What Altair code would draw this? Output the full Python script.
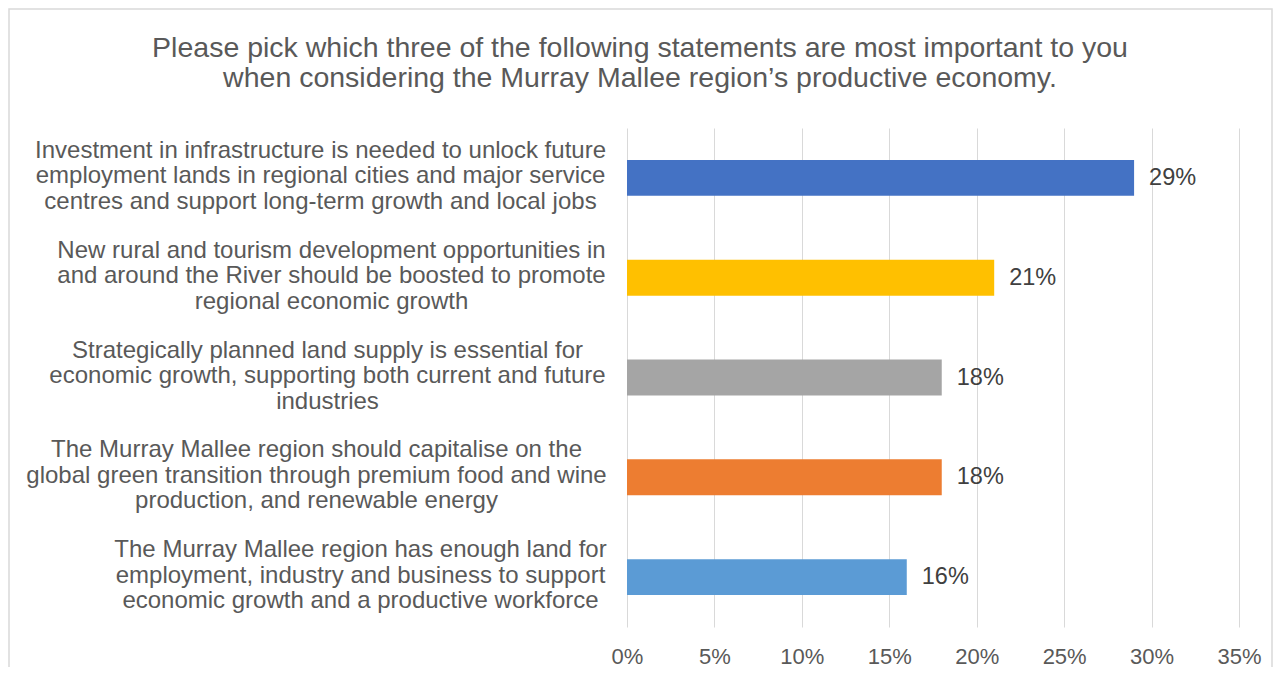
import altair as alt
import pandas as pd

statements = [
    "Investment in infrastructure is needed to unlock future|employment lands in regional cities and major service|centres and support long-term growth and local jobs",
    "New rural and tourism development opportunities in|and around the River should be boosted to promote|regional economic growth",
    "Strategically planned land supply is essential for|economic growth, supporting both current and future|industries",
    "The Murray Mallee region should capitalise on the|global green transition through premium food and wine|production, and renewable energy",
    "The Murray Mallee region has enough land for|employment, industry and business to support|economic growth and a productive workforce",
]
shares = [0.29, 0.21, 0.18, 0.18, 0.16]
colors = ["#4472C4", "#FFC000", "#A5A5A5", "#ED7D31", "#5B9BD5"]
x_ticks = [0, 0.05, 0.10, 0.15, 0.20, 0.25, 0.30, 0.35]
title_lines = [
    "Please pick which three of the following statements are most important to you",
    "when considering the Murray Mallee region\u2019s productive economy.",
]

df = pd.DataFrame({"statement": statements, "share": shares, "color": colors})

FONT = "Liberation Sans"
TEXT = "#595959"
W, H = 612, 499
PAD_L, PAD_T, PAD_R, PAD_B = 619, 120, 34, 40

# per-label horizontal centre offset (lines centred within a right-aligned block)
pads = [307, 296, 300, 311, 267]
pad_expr = "[" + ",".join(str(p) for p in pads) + "][indexof(domain('y'), datum.value)]"

y_enc = alt.Y(
    "statement:N",
    sort=statements,
    scale=alt.Scale(paddingInner=0.64, paddingOuter=0.32),
    axis=alt.Axis(
        title=None,
        domain=False,
        ticks=False,
        tickSize=0,
        grid=False,
        labelExpr="split(datum.label, '|')",
        labelAlign="center",
        labelBaseline="middle",
        labelPadding=alt.expr(pad_expr),
        labelOffset=-27,
        labelFont=FONT,
        labelFontSize=24,
        labelLineHeight=25.5,
        labelColor=TEXT,
        labelLimit=1000,
    ),
)

x_enc = alt.X(
    "share:Q",
    scale=alt.Scale(domain=[0, 0.35], nice=False),
    axis=alt.Axis(
        title=None,
        values=x_ticks,
        format=".0%",
        domain=False,
        ticks=False,
        grid=True,
        gridColor="#D9D9D9",
        gridWidth=1,
        labelFont=FONT,
        labelFontSize=22,
        labelColor=TEXT,
        labelPadding=19,
        labelFlush=False,
    ),
)

bars = alt.Chart(df).mark_bar().encode(
    x=x_enc,
    y=y_enc,
    color=alt.Color("color:N", scale=None, legend=None),
)

labels = alt.Chart(df).mark_text(
    align="left", baseline="middle", dx=15, font=FONT, fontSize=23.5, color="#404040"
).encode(
    x="share:Q",
    y=alt.Y("statement:N", sort=statements),
    text=alt.Text("share:Q", format=".0%"),
)

one = pd.DataFrame({"k": [0]})

frame = alt.Chart(one).mark_rect(
    fill=None, stroke="#D9D9D9", strokeWidth=1.5
).encode(
    x=alt.value(-PAD_L + 1),
    x2=alt.value(W + PAD_R - 1),
    y=alt.value(-PAD_T + 1),
    y2=alt.value(H + PAD_B + 30),
)

title = alt.Chart(one).mark_text(
    text=title_lines,
    align="center",
    baseline="alphabetic",
    font=FONT,
    fontSize=28.5,
    lineHeight=30,
    color=TEXT,
).encode(
    x=alt.value(640 - 8 - PAD_L),
    y=alt.value(57 - 8 - PAD_T),
)

chart = alt.layer(frame, title, bars, labels).properties(
    width=W,
    height=H,
    padding={"left": PAD_L, "top": PAD_T, "right": PAD_R, "bottom": PAD_B},
    autosize=alt.AutoSizeParams(type="none"),
).configure_view(stroke=None)

chart.save("out.html", embed_options={"renderer": "svg", "actions": False})
